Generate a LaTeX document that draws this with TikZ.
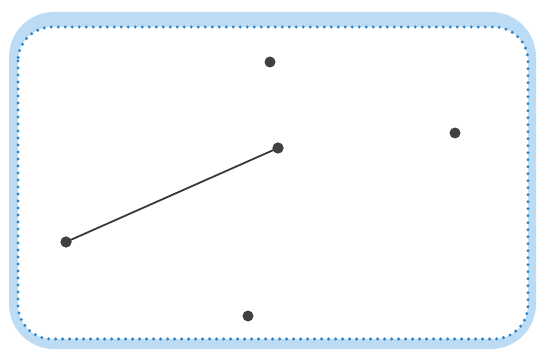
\documentclass[tikz,border=0pt]{standalone}
\definecolor{bandblue}{HTML}{BCDCF5}
\definecolor{dotblue}{HTML}{2F86C6}
\definecolor{pointgray}{HTML}{404040}
\tikzset{
  pt/.style={circle,fill=pointgray,inner sep=0pt,minimum size=11pt},
  seg/.style={line width=1.8pt,draw=pointgray!90!black},
  dotline/.style={draw=dotblue,line width=3.3pt,line cap=round,dash pattern=on 0pt off 7pt}
}
\begin{document}
\begin{tikzpicture}[x=1pt,y=-1pt]
\useasboundingbox (0,0) rectangle (537,352);
\fill[white] (0,0) rectangle (537,352);
\fill[bandblue,rounded corners=45pt] (9,12) rectangle (536,349);
\fill[white,rounded corners=34pt] (18,27) rectangle (528,339);
\draw[dotline,rounded corners=34pt] (18,27) rectangle (528,339);
\node[pt] (a) at (270,62) {};
\node[pt] (b) at (455,133) {};
\node[pt] (c) at (278,148) {};
\node[pt] (d) at (66,242) {};
\node[pt] (e) at (248,316) {};
\draw[seg] (d.center) -- (c.center);
\node[pt] at (c) {};
\node[pt] at (d) {};
\end{tikzpicture}
\end{document}
